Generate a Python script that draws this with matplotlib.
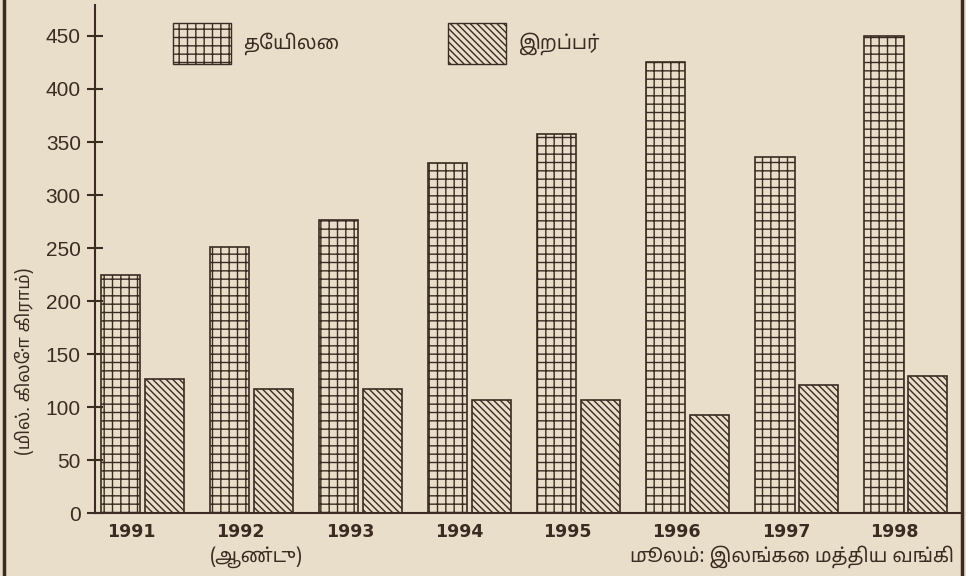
import matplotlib
matplotlib.use('Agg')
from matplotlib import pyplot as plt
from matplotlib import font_manager
from matplotlib.patches import Patch
import numpy as np

# data
years = ['1991', '1992', '1993', '1994', '1995', '1996', '1997', '1998']
tea = [225, 251, 276, 330, 358, 425, 336, 450]
rubber = [127, 117, 117, 107, 107, 93, 121, 129]

ink = '#3b2b22'
paper = '#e8dec9'


def tamil_font():
    """find an installed font that can draw Tamil, prefer a sans one"""
    try:
        from fontTools.ttLib import TTFont
    except ImportError:
        return 'DejaVu Sans'
    found = []
    for f in font_manager.fontManager.ttflist:
        try:
            cmap = TTFont(f.fname, fontNumber=0, lazy=True).getBestCmap()
        except Exception:
            continue
        if cmap and 0x0BA4 in cmap and 0x0BC7 in cmap:
            found.append(f.name)
    if not found:
        return 'DejaVu Sans'
    for key in ['Noto Sans Tamil', 'Lohit', 'FreeSans', 'Sans', 'Serif']:
        for name in found:
            if key in name and 'Mono' not in name:
                return name
    return found[0]


tfont = tamil_font()
plt.rcParams['font.family'] = ['Liberation Sans', 'DejaVu Sans']
plt.rcParams['hatch.linewidth'] = 1.0
plt.rcParams['hatch.color'] = ink
tam = [tfont, 'DejaVu Sans']

fig = plt.figure(figsize=(9.66, 5.76), dpi=100, facecolor=paper)
ax = fig.add_axes([0.098, 0.109, 0.896, 0.882], facecolor=paper)

x = np.arange(len(years))
w = 0.36
ax.bar(x - 0.2, tea, w, facecolor='none', edgecolor=ink, hatch='++', linewidth=1.2)
ax.bar(x + 0.2, rubber, w, facecolor='none', edgecolor=ink, hatch='\\\\\\\\\\', linewidth=1.2)

ax.set_xlim(-0.44, 7.5)
ax.set_ylim(0, 479)
ax.set_yticks(range(0, 451, 50))
ax.set_xticks(x - 0.1)
ax.set_xticklabels(years, fontsize=12.5, fontweight='bold', color=ink, family='DejaVu Sans')
ax.tick_params(axis='y', direction='inout', length=12, width=1.5, color=ink,
               labelsize=15, labelcolor=ink, pad=4)
ax.tick_params(axis='x', length=0, pad=7)
for s in ['top', 'right']:
    ax.spines[s].set_visible(False)
for s in ['left', 'bottom']:
    ax.spines[s].set_color(ink)
    ax.spines[s].set_linewidth(1.5)

ax.set_ylabel('(மில். கிலோ கிராம்)', fontsize=13, fontweight='bold', color=ink, family=tam)
ax.yaxis.set_label_coords(-0.07, 0.30)

handles = [Patch(facecolor='none', edgecolor=ink, hatch='++', label='தேயிலை'),
           Patch(facecolor='none', edgecolor=ink, hatch='\\\\\\\\\\', label='இறப்பர்')]
ax.legend(handles=handles, loc='upper left', bbox_to_anchor=(0.07, 1.0), ncol=2,
          frameon=False, handlelength=3.0, handleheight=2.9,
          columnspacing=5.6, handletextpad=0.6, labelcolor=ink,
          prop={'family': tam, 'weight': 'bold', 'size': 14})

fig.text(0.265, 0.025, '(ஆண்டு)', fontsize=14, fontweight='bold', color=ink,
         ha='center', family=tam)
fig.text(0.988, 0.025, 'மூலம்: இலங்கை மத்திய வங்கி', fontsize=14, fontweight='bold',
         color=ink, ha='right', family=tam)

# page border lines of the scan
fig.add_artist(plt.Line2D([0.004, 0.004], [0, 1], color=ink, lw=2.5, transform=fig.transFigure))
fig.add_artist(plt.Line2D([0.996, 0.996], [0, 1], color=ink, lw=2.5, transform=fig.transFigure))

fig.savefig('out.png', dpi=100, facecolor=paper)
